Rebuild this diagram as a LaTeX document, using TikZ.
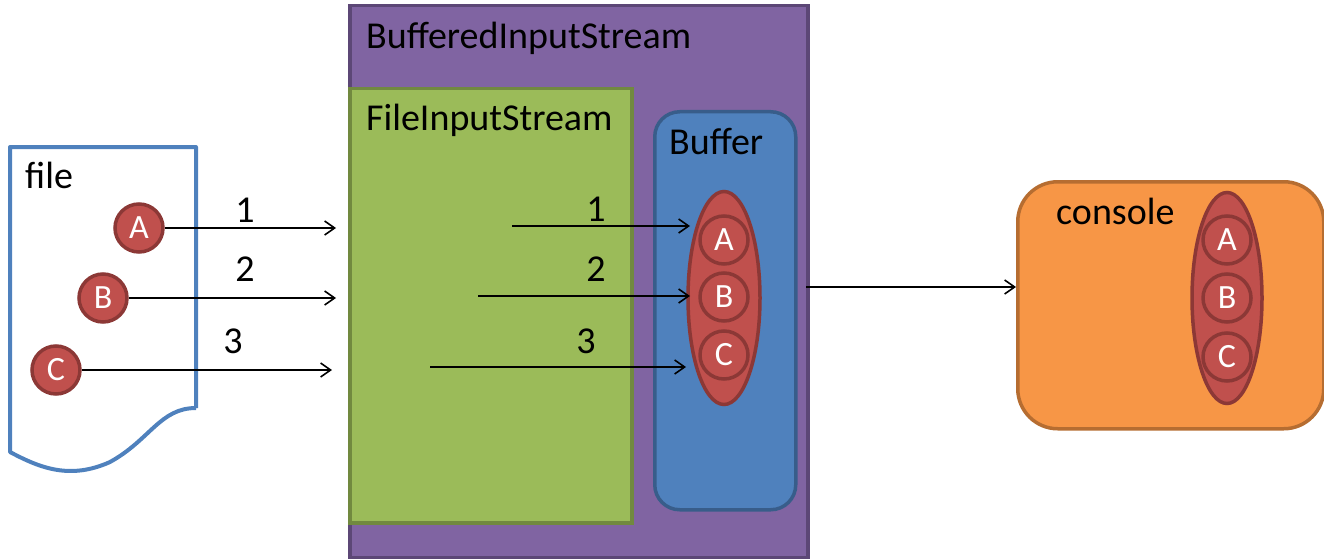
\documentclass[tikz,border=0pt]{standalone}
\usepackage{fontspec}
\setmainfont{Carlito}
\usetikzlibrary{arrows.meta,shapes.geometric}
\definecolor{purp}{HTML}{8064A2}
\definecolor{purpd}{HTML}{5C4776}
\definecolor{grn}{HTML}{9BBB59}
\definecolor{grnd}{HTML}{71893F}
\definecolor{blu}{HTML}{4F81BD}
\definecolor{blud}{HTML}{385D8A}
\definecolor{org}{HTML}{F79646}
\definecolor{orgd}{HTML}{B66D31}
\definecolor{rd}{HTML}{C0504D}
\definecolor{rdd}{HTML}{8C3836}
\definecolor{filec}{HTML}{4F81BD}
\tikzset{
  big/.style={font=\fontsize{38}{42}\selectfont, inner sep=0pt},
  ball/.style={circle, fill=rd, draw=rdd, line width=3.5pt, minimum size=48pt, inner sep=0pt, text=white, font=\fontsize{34}{38}\selectfont},
  pill/.style={ellipse, fill=rd, draw=rdd, line width=3.5pt, inner sep=0pt},
  box/.style={line width=3.5pt, anchor=north west, inner sep=0pt},
  flow/.style={-{Straight Barb[length=10pt,width=14pt,line width=1.6pt]}, line width=1.6pt, black},
  lbl/.style={anchor=base, inner sep=0pt, font=\fontsize{38}{42}\selectfont},
}
\begin{document}
\begin{tikzpicture}[x=1pt,y=-1pt]
\useasboundingbox (0,0) rectangle (1324,559);
% file document
\draw[filec, line width=4pt, line join=round] (196,408) -- (196,147) -- (10,147) -- (10,452)
  .. controls (40,468) and (70,480) .. (110,462)
  .. controls (150,440) and (160,408) .. (196,408);
\node[big, anchor=base west] (filet) at (25,188) {file};
% containers
\node[box, draw=purpd, fill=purp, minimum width=458pt, minimum height=552pt] (bis) at (348,4) {};
\node[big, anchor=base west] (bist) at (366,49) {BufferedInputStream};
\node[box, draw=grnd, fill=grn, minimum width=282pt, minimum height=434pt] (fis) at (348,87) {};
\node[big, anchor=base west] (fist) at (366,131) {FileInputStream};
\node[box, draw=blud, fill=blu, rounded corners=25pt, minimum width=141pt, minimum height=398pt] (buf) at (653,110) {};
\node[big, anchor=base west] (buft) at (669,154) {Buffer};
\node[box, draw=orgd, fill=org, rounded corners=40pt, minimum width=306pt, minimum height=247pt] (con) at (1016,180) {};
\node[big, anchor=base west] (cont) at (1056,224) {console};
% file balls
\node[ball] (fa) at (139,228) {A};
\node[ball] (fb) at (103,298) {B};
\node[ball] (fc) at (56,370) {C};
% buffer pill
\node[pill, minimum width=72pt, minimum height=213pt] (bp) at (724,298) {};
\node[ball] (ba) at (724,240) {A};
\node[ball] (bb) at (724,297) {B};
\node[ball] (bc) at (724,355) {C};
% console pill
\node[pill, minimum width=70pt, minimum height=211pt] (cp) at (1227,298) {};
\node[ball] (ca) at (1227,240) {A};
\node[ball] (cb) at (1227,298) {B};
\node[ball] (cc) at (1227,357) {C};
% coordinates
\coordinate (e1) at (336,228);
\coordinate (e2) at (336,298);
\coordinate (e3) at (332,370);
\coordinate (s4) at (512,226);
\coordinate (e4) at (690,226);
\coordinate (s5) at (478,296);
\coordinate (e5) at (690,296);
\coordinate (s6) at (430,367);
\coordinate (e6) at (686,367);
\coordinate (s7) at (806,287);
\coordinate (e7) at (1016,287);
% arrows
\draw[flow] (fa.east) -- (e1);
\draw[flow] (fb.east) -- (e2);
\draw[flow] (fc.east) -- (e3);
\draw[flow] (s4) -- (e4);
\draw[flow] (s5) -- (e5);
\draw[flow] (s6) -- (e6);
\draw[flow] (s7) -- (e7);
% labels
\node[lbl] (l1) at (245,222) {1};
\node[lbl] (l2) at (245,281) {2};
\node[lbl] (l3) at (233,353) {3};
\node[lbl] (l4) at (596,221) {1};
\node[lbl] (l5) at (596,281) {2};
\node[lbl] (l6) at (586,353) {3};
\end{tikzpicture}
\end{document}
